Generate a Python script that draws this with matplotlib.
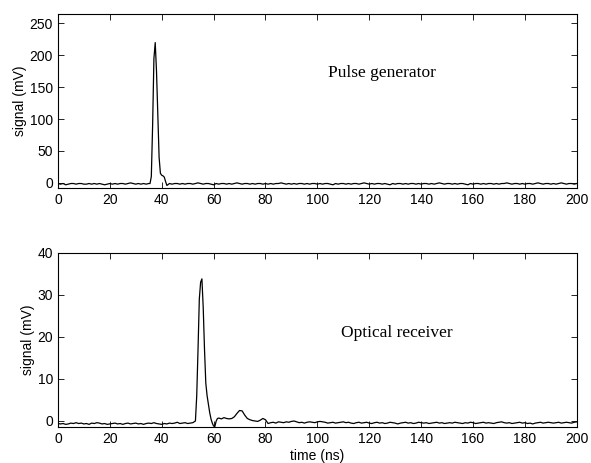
import numpy as np
import matplotlib
matplotlib.use('Agg')
import matplotlib.pyplot as plt

# ---- pulse generator (top) ----
top_base_a = [-1, -2, -1, -3, -2, -1, -1, -2, -1, -1, -2, -2, -1, -2, -1, -2, -1, -2,
              -3, -2, -1, -2, -1, -2, -1, -1, -2, -1, 0, -1, -2, -1, -2, -1, -2, -1]
top_peak_t = [35.5, 36, 36.5, 37, 37.5, 38, 38.5, 39, 39.5, 40, 40.5, 41, 41.5]
top_peak_v = [-1, 10, 90, 195, 220, 175, 105, 40, 15, 12, 11, 9, 2]
top_base_b = [-4, -1, -2, -1, -1, -2, -1, -2, -1, -1, -2, -1, 0, -1, -2, -1, -1, -2, -3, -1,
              -2, -1, -1, -2, -1, -2, -1, 0, -1, -2, -1, -1, -2, -1, -2, -1, -1, -2, -1, -2,
              -1, -2, -1, -1, 0, -1, -2, -1, -2, -1, -2, -1, -1, -2, -1, -2, -1, -1, -2, -1,
              -2, -1, -1, -2, -3, -1, -2, -1, -1, -2, -1, -2, -1, -1, -2, -1, 0, -1, -2, -1,
              -2, -1, -1, -2, -1, -2, -3, -1, -2, -1, -1, -2, -1, -2, -1, -1, -2, -1, -2, -1,
              -1, -2, -1, -2, -1, 0, -1, -2, -1, -1, -2, -1, -2, -1, -1, -2, -3, -1, -2, -1,
              -1, -2, -1, -2, -1, -1, -2, -1, -2, -1, -1, 0, -1, -2, -1, -1, -2, -1, -2, -1,
              -1, -2, -1, 0, -1, -2, -1, -1, -2, -1, -2, -1, 0, -1, -2, -1, -1, -2, -1]

# ---- optical receiver (bottom) ----
bot_base_a = [-0.6, -0.7, -0.6, -0.8, -0.7, -0.5, -0.6, -0.4, -0.6, -0.5, -0.7, -0.6, -0.8,
              -0.5, -0.6, -0.4, -0.5, -0.7, -0.6, -0.8, -0.7, -0.6, -0.5, -0.7, -0.6, -0.8,
              -0.6, -0.5, -0.7, -0.6, -0.5, -0.7, -0.6, -0.8, -0.6, -0.5, -0.6, -0.4, -0.6,
              -0.7, -0.8, -0.6, -0.7, -0.5, -0.6, -0.5, -0.3, -0.6, -0.5, -0.4, -0.6, -0.5, -0.4]
bot_peak_t = [53, 53.5, 54, 54.5, 55, 55.5, 56, 56.5, 57, 57.5, 58, 58.5, 59, 59.5, 60,
              60.5, 61, 61.5]
bot_peak_v = [0, 6, 17, 29, 33, 33.8, 27, 17, 9, 6, 4, 2, 0.5, -0.5, -1.2, -1.3, 0, 0.6]
bot_base_b = [0.7, 0.5, 0.8, 0.6, 0.5, 0.6, 1.0, 1.8, 2.5, 2.4, 1.4, 0.6, 0.3, 0.1, 0.0,
              -0.1, 0.2, 0.6, 0.3, -0.6, -0.4, -0.3, -0.5, -0.2, -0.3, -0.4, -0.2, -0.3, -0.1,
              0.0, -0.2, -0.4, -0.3, -0.5, -0.3, -0.2, -0.3, -0.4, -0.2, -0.1, -0.2, -0.3,
              -0.5, -0.4, -0.3, -0.5, -0.4, -0.3, -0.2, -0.4, -0.3, -0.5, -0.6, -0.4, -0.3,
              -0.5, -0.4, -0.3, -0.5, -0.6, -0.4, -0.3, -0.5, -0.4, -0.6, -0.5, -0.3, -0.4,
              -0.5, -0.7, -0.5, -0.4, -0.3, -0.5, -0.4, -0.6, -0.5, -0.3, -0.4, -0.5, -0.4,
              -0.6, -0.5, -0.4, -0.3, -0.5, -0.4, -0.6, -0.5, -0.4, -0.5, -0.3, -0.4, -0.5,
              -0.6, -0.4, -0.5, -0.3, -0.4, -0.6, -0.5, -0.4, -0.3, -0.5, -0.4, -0.5, -0.6,
              -0.4, -0.3, -0.2, -0.4, -0.5, -0.4, -0.6, -0.5, -0.4, -0.3, -0.5, -0.4, -0.6,
              -0.5, -0.7, -0.5, -0.4, -0.3, -0.5, -0.4, -0.3, -0.4, -0.5, -0.4, -0.3, -0.5,
              -0.4, -0.3, -0.4, -0.5, -0.3, -0.2]

xticks = [0, 20, 40, 60, 80, 100, 120, 140, 160, 180, 200]
top_yticks = [0, 50, 100, 150, 200, 250]
bot_yticks = [0, 10, 20, 30, 40]

t_top = np.concatenate([np.arange(0, 36), top_peak_t, np.arange(42, 42 + len(top_base_b))])
v_top = np.concatenate([top_base_a, top_peak_v, top_base_b])
t_bot = np.concatenate([np.arange(0, 53), bot_peak_t, np.arange(62, 62 + len(bot_base_b))])
v_bot = np.concatenate([bot_base_a, bot_peak_v, bot_base_b])

plt.rcParams['font.family'] = ['Liberation Sans', 'DejaVu Sans']

fig = plt.figure(figsize=(5.91, 4.63), dpi=100)
ax1 = fig.add_axes([0.098, 0.594, 0.878, 0.376])
ax2 = fig.add_axes([0.098, 0.078, 0.878, 0.376])

for ax, t, v, yt, ylim in [(ax1, t_top, v_top, top_yticks, (-8, 265)),
                           (ax2, t_bot, v_bot, bot_yticks, (-1.4, 40))]:
    ax.plot(t, v, color='black', lw=0.9)
    ax.set_xlim(0, 200)
    ax.set_ylim(*ylim)
    ax.set_xticks(xticks)
    ax.set_yticks(yt)
    ax.tick_params(direction='in', length=4, width=0.6, labelsize=10,
                   top=True, right=True, pad=3.5)
    ax.set_ylabel('signal (mV)', fontsize=10, labelpad=2)
    for s in ax.spines.values():
        s.set_linewidth(0.8)

ax1.text(104, 172, 'Pulse generator', fontsize=12.5, family='Liberation Serif', va='center')
ax2.text(109, 21, 'Optical receiver', fontsize=12.5, family='Liberation Serif', va='center')
ax2.set_xlabel('time (ns)', fontsize=10, labelpad=2)

fig.savefig('out.png', dpi=100)
